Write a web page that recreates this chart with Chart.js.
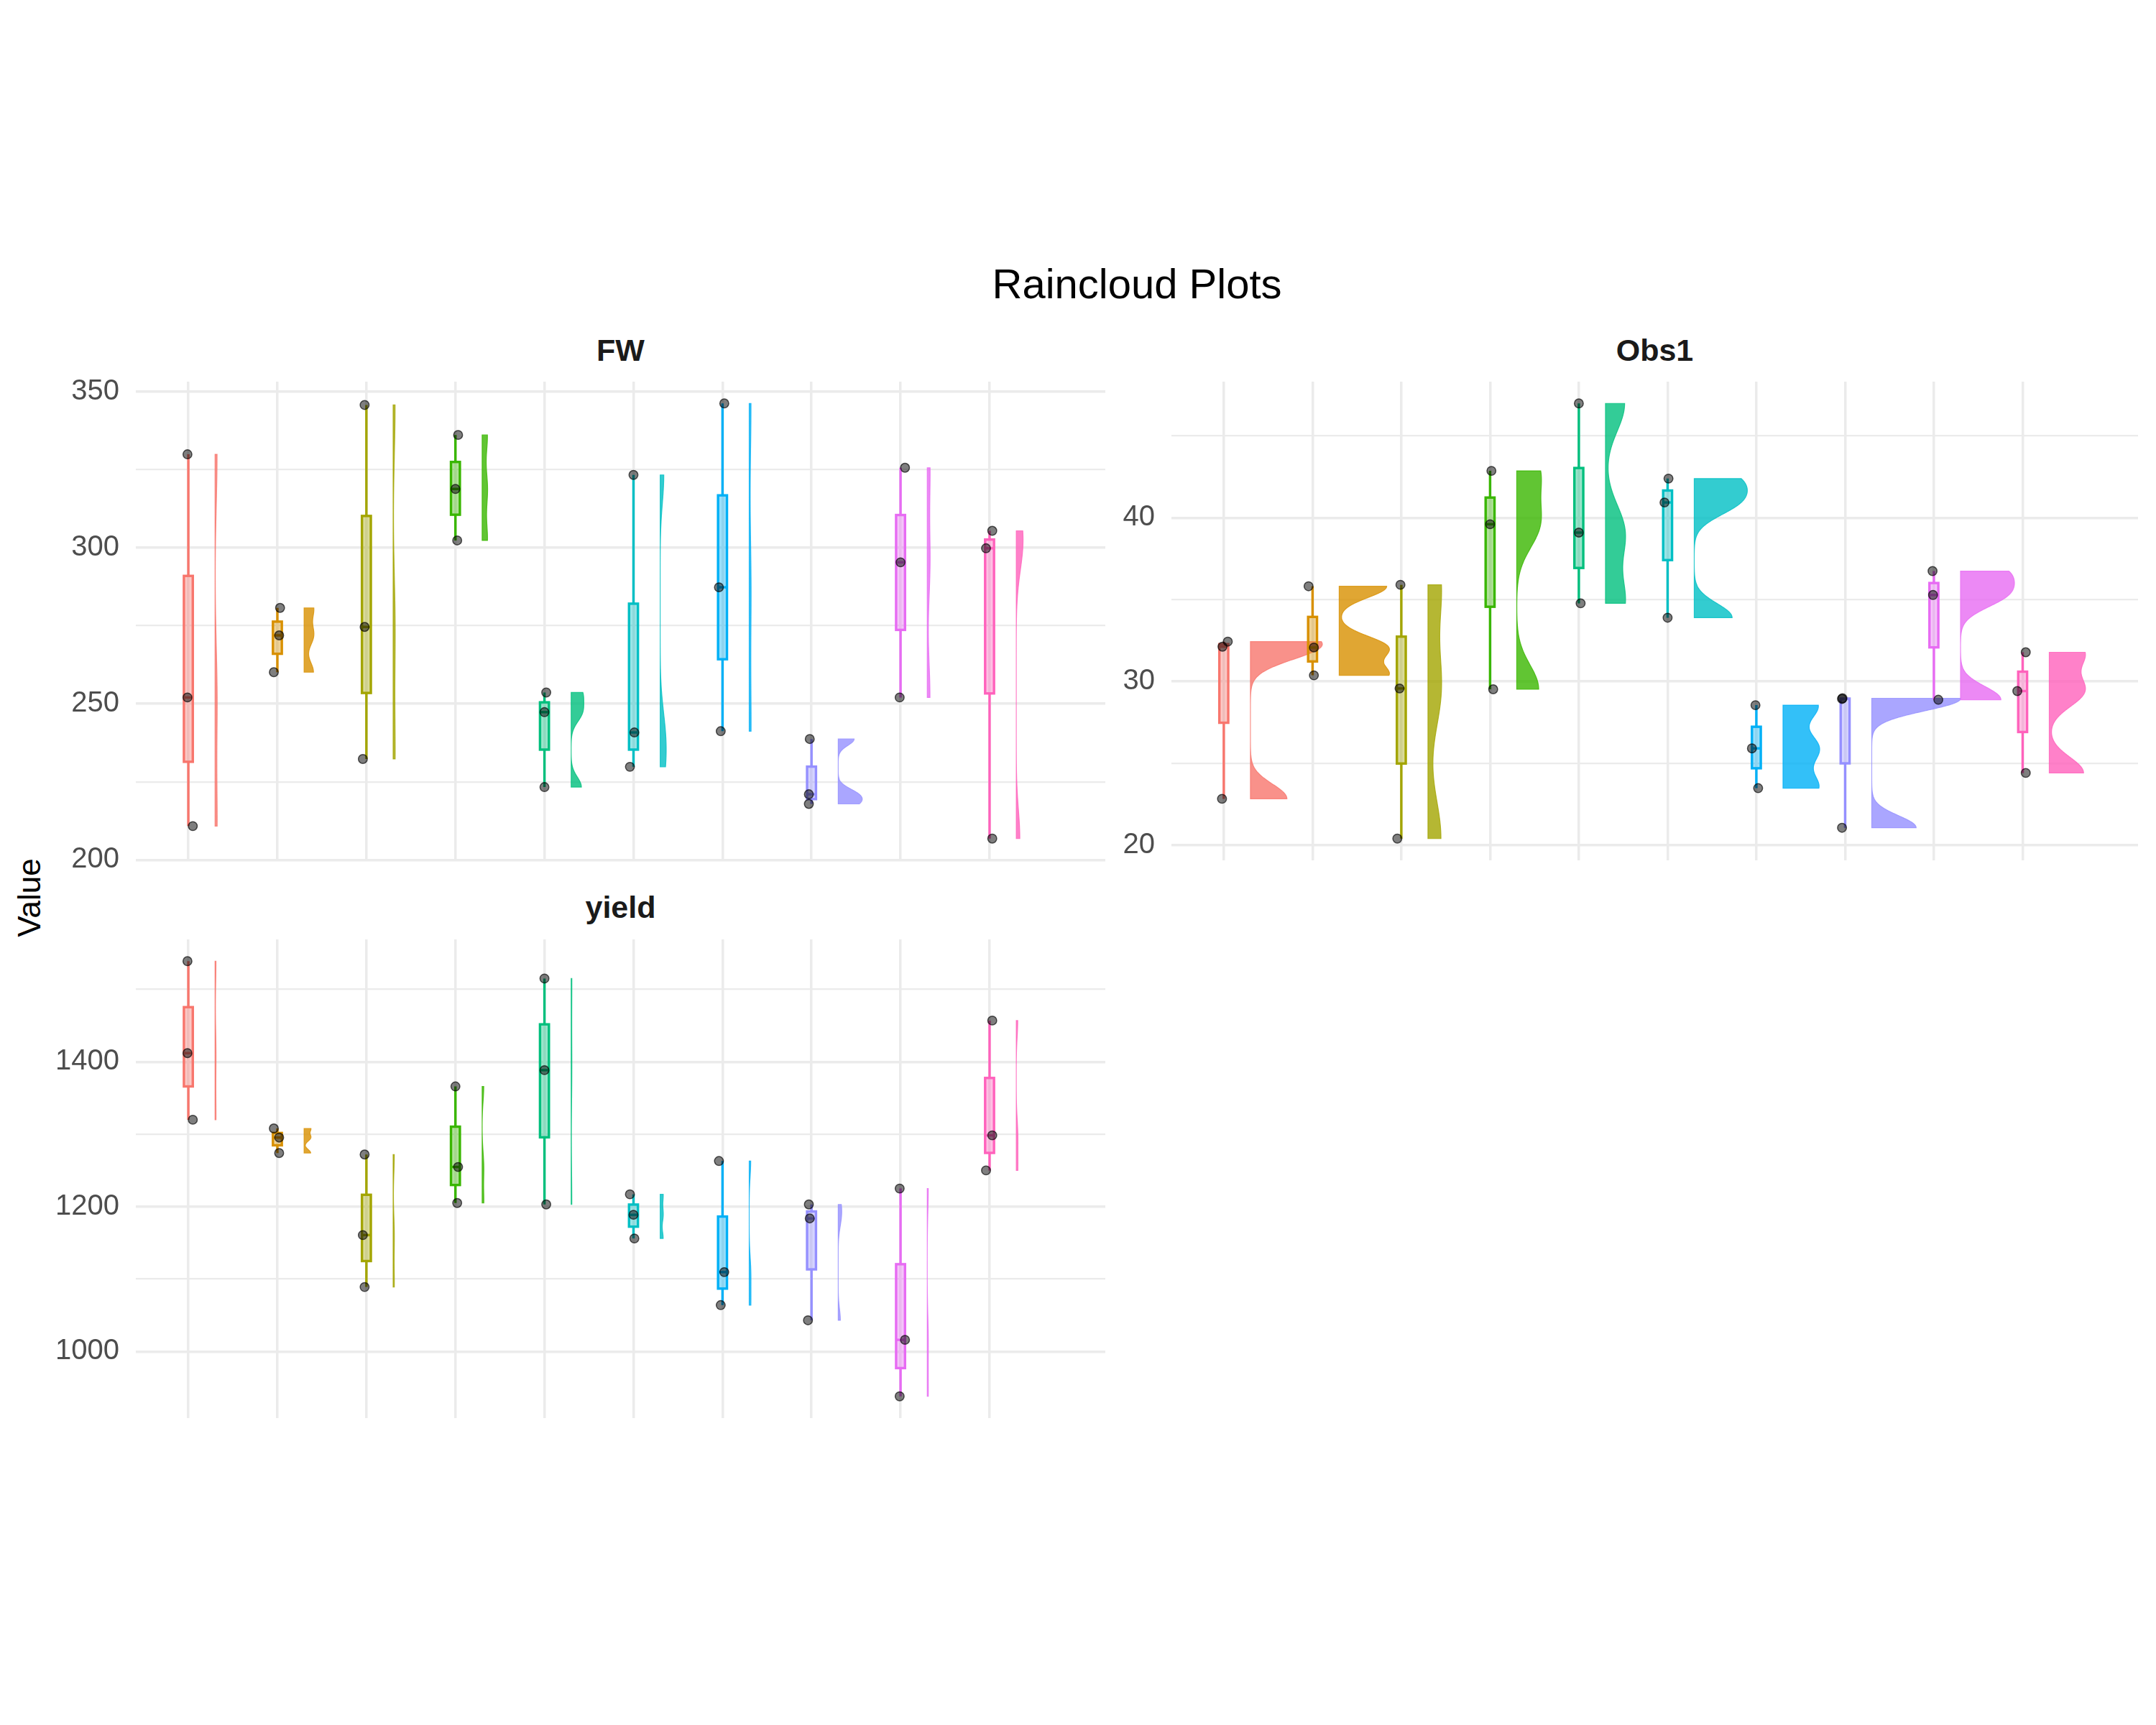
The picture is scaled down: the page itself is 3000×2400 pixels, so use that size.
<!DOCTYPE html>
<html><head><meta charset="utf-8">
<script src="https://cdn.jsdelivr.net/npm/chart.js@4.4.1/dist/chart.umd.min.js"></script>
<style>
html,body{margin:0;padding:0;background:#fff;}
#wrap{position:relative;width:3000px;height:2400px;background:#fff;overflow:hidden;font-family:"Liberation Sans",Arial,sans-serif;}
canvas{position:absolute;}
.txt{position:absolute;white-space:nowrap;text-align:center;}
</style></head><body>
<div id="wrap">
  <div class="txt" style="left:1082px;top:366px;width:1000px;font-size:58px;line-height:58px;color:#000;">Raincloud Plots</div>
  <div class="txt" style="left:663.5px;top:465.6px;width:400px;font-size:43px;line-height:43px;font-weight:bold;color:#1A1A1A;">FW</div>
  <div class="txt" style="left:2102.5px;top:465.6px;width:400px;font-size:43px;line-height:43px;font-weight:bold;color:#1A1A1A;">Obs1</div>
  <div class="txt" style="left:663.5px;top:1240.6px;width:400px;font-size:43px;line-height:43px;font-weight:bold;color:#1A1A1A;">yield</div>
  <div class="txt" style="left:-59.2px;top:1227px;width:200px;height:44px;font-size:44px;line-height:44px;color:#000;transform:rotate(-90deg);">Value</div>
  <canvas id="cFW" width="1600" height="760" style="left:0px;top:484px;width:1600px;height:760px;"></canvas>
  <canvas id="cObs" width="1559" height="760" style="left:1441px;top:484px;width:1559px;height:760px;"></canvas>
  <canvas id="cYield" width="1600" height="760" style="left:0px;top:1260px;width:1600px;height:760px;"></canvas>
</div>
<script>
// ---------------- data ----------------
const categories = ["G1","G2","G3","G4","G5","G6","G7","G8","G9","G10"];
const colors = ["#F8766D","#D89000","#A3A500","#39B600","#00BF7D","#00BFC4","#00B0F6","#9590FF","#E76BF3","#FF62BC"];

const fwValues = [[329.9,252.0,210.8],[280.7,271.9,260.1],[345.7,274.6,232.3],[336.1,318.8,302.3],[253.6,247.3,223.3],
                  [323.3,240.8,229.8],[346.2,287.3,241.2],[238.7,221.0,217.9],[325.6,295.3,252.0],[305.4,299.8,206.8]];
const fwJitter = [[-0.01,-0.01,0.05],[0.03,0.02,-0.04],[-0.02,-0.02,-0.04],[0.03,0,0.02],[0.02,0,0],
                  [0,0.01,-0.04],[0.02,-0.04,-0.02],[-0.02,-0.03,-0.03],[0.05,0,-0.01],[0.03,-0.04,0.03]];
const fwMajorTicks = [200,250,300,350];
const fwMinorTicks = [225,275,325];

const obs1Values = [[32.43,32.12,22.83],[35.81,32.07,30.37],[35.9,29.57,20.4],[42.86,39.6,29.52],[46.98,39.09,34.77],
                    [42.39,40.93,33.89],[28.55,25.91,23.48],[28.97,28.93,21.06],[36.74,35.28,28.88],[31.78,29.41,24.41]];
const obs1Jitter = [[0.045,-0.015,-0.02],[-0.045,0.015,0.015],[-0.01,-0.02,-0.045],[0.015,0,0.035],[0,0,0.02],
                    [0.01,-0.035,0],[-0.01,-0.05,0.02],[-0.03,-0.035,-0.035],[-0.015,-0.01,0.05],[0.035,-0.06,0.035]];
const obs1MajorTicks = [20,30,40];
const obs1MinorTicks = [25,35,45];

const yieldValues = [[1539,1412.0,1320],[1308,1295.4,1274],[1272,1160.7,1089],[1366,1254.8,1205],[1515,1388.5,1203],
                     [1217,1188.7,1156],[1263,1109.6,1064],[1203,1183.7,1043],[1225,1016.0,938],[1457,1298.4,1250]];
const yieldJitter = [[-0.01,-0.01,0.05],[-0.04,0.02,0.02],[-0.02,-0.04,-0.02],[0,0.03,0.02],[0,0,0.02],
                     [-0.04,0,0.01],[-0.04,0.02,-0.02],[-0.03,-0.02,-0.04],[-0.01,0.05,-0.01],[0.03,0.03,-0.04]];
const yieldMajorTicks = [1000,1200,1400];
const yieldMinorTicks = [1100,1300,1500];

// ---------------- layout / style ----------------
const X_MIN = 0.41, X_MAX = 11.3;
const BOX_HALF = 0.05, VIOLIN_NUDGE = 0.3, VIOLIN_MAX = 1.0;
const BW_ADJUST = 0.5;
const GRID = "#EBEBEB";
Chart.defaults.font.family = "Liberation Sans";

// ---------------- stats (box quartiles, density) ----------------
function sorted(a){return a.slice().sort((p,q)=>p-q);}
function q7(s,p){const h=(s.length-1)*p,lo=Math.floor(h),hi=Math.min(lo+1,s.length-1);return s[lo]+(h-lo)*(s[hi]-s[lo]);}
function sdev(x){const m=x.reduce((a,b)=>a+b,0)/x.length;return Math.sqrt(x.reduce((a,b)=>a+(b-m)*(b-m),0)/(x.length-1));}
function iqr(x){const s=sorted(x);return q7(s,0.75)-q7(s,0.25);}
function bwNrd0(x){const lo=Math.min(sdev(x),iqr(x)/1.34);return 0.9*lo*Math.pow(x.length,-0.2);}
function bwSJdpi(x){
  const n=x.length,nb=1000,xmin=Math.min(...x),xmax=Math.max(...x);
  const dd=(xmax-xmin)*1.01/nb,cnt=new Array(nb+2).fill(0);
  for(let i=1;i<n;i++){const ii=Math.trunc(x[i]/dd);for(let j=0;j<i;j++){const jj=Math.trunc(x[j]/dd);cnt[Math.abs(ii-jj)]++;}}
  const S2=Math.sqrt(2*Math.PI);
  const phi4=h=>{let s=0;for(let i=0;i<cnt.length;i++){let d=i*dd/h;d*=d;if(d>=1000)break;s+=Math.exp(-d/2)*(d*d-6*d+3)*cnt[i];}s=2*s+n*3;return s/(n*(n-1)*Math.pow(h,5)*S2);};
  const phi6=h=>{let s=0;for(let i=0;i<cnt.length;i++){let d=i*dd/h;d*=d;if(d>=1000)break;s+=Math.exp(-d/2)*(d*d*d-15*d*d+45*d-15)*cnt[i];}s=2*s-15*n;return s/(n*(n-1)*Math.pow(h,7)*S2);};
  const sc=Math.min(sdev(x),iqr(x)/1.349);
  const b=1.23*sc*Math.pow(n,-1/9),c1=1/(2*Math.sqrt(Math.PI)*n);
  const TD=-phi6(b);
  if(!(TD>0))return bwNrd0(x);
  const r=Math.pow(c1/phi4(Math.pow(2.394/(n*TD),1/7)),1/5);
  return isFinite(r)&&r>0?r:bwNrd0(x);
}
function kde(x,h){
  const lo=Math.min(...x),hi=Math.max(...x),N=300,ys=[],ds=[];
  const k=u=>Math.exp(-0.5*u*u)/Math.sqrt(2*Math.PI);
  for(let i=0;i<N;i++){
    const y=lo+(hi-lo)*i/(N-1);let d=0;
    for(const xi of x)d+=k((y-xi)/h);
    ys.push(y);ds.push(d/(x.length*h));
  }
  return {ys,ds,max:Math.max(...ds)};
}
function violinSet(panels){
  const res=panels.map(P=>P.map(v=>kde(v,bwSJdpi(v)*BW_ADJUST)));
  let gmax=0;res.forEach(P=>P.forEach(d=>{gmax=Math.max(gmax,d.max);}));
  return res.map(P=>P.map(d=>({ys:d.ys,w:d.ds.map(v=>v/gmax*VIOLIN_MAX)})));
}
const violins=violinSet([fwValues,obs1Values,yieldValues]);

// ---------------- drawing ----------------
function rgba(hex,a){const n=parseInt(hex.slice(1),16);return `rgba(${n>>16&255},${n>>8&255},${n&255},${a})`;}
function makePlugin(values,vio){
  return {id:'raincloud',beforeDatasetsDraw(chart){
    const xs=chart.scales.x,ys=chart.scales.y,ctx=chart.ctx,ca=chart.chartArea;
    ctx.save();ctx.beginPath();ctx.rect(ca.left,ca.top,ca.right-ca.left,ca.bottom-ca.top);ctx.clip();
    values.forEach((vals,g)=>{
      const gx=g+1,col=colors[g],v=vio[g];
      // half violin
      ctx.beginPath();
      const x0=xs.getPixelForValue(gx+VIOLIN_NUDGE);
      ctx.moveTo(x0,ys.getPixelForValue(v.ys[0]));
      for(let i=0;i<v.ys.length;i++)ctx.lineTo(xs.getPixelForValue(gx+VIOLIN_NUDGE+v.w[i]),ys.getPixelForValue(v.ys[i]));
      ctx.lineTo(x0,ys.getPixelForValue(v.ys[v.ys.length-1]));ctx.closePath();
      ctx.fillStyle=rgba(col,0.8);ctx.fill();
      ctx.strokeStyle=rgba(col,0.8);ctx.lineWidth=1.2;ctx.stroke();
      // box plot
      const s=sorted(vals),q1=q7(s,0.25),med=q7(s,0.5),q3=q7(s,0.75);
      const xl=xs.getPixelForValue(gx-BOX_HALF),xr=xs.getPixelForValue(gx+BOX_HALF),xc=xs.getPixelForValue(gx);
      ctx.strokeStyle=col;ctx.lineWidth=3.4;ctx.lineCap='butt';
      ctx.beginPath();ctx.moveTo(xc,ys.getPixelForValue(s[s.length-1]));ctx.lineTo(xc,ys.getPixelForValue(q3));
      ctx.moveTo(xc,ys.getPixelForValue(q1));ctx.lineTo(xc,ys.getPixelForValue(s[0]));ctx.stroke();
      const yt=ys.getPixelForValue(q3),yb=ys.getPixelForValue(q1);
      ctx.fillStyle=rgba(col,0.4);ctx.fillRect(xl,yt,xr-xl,yb-yt);
      ctx.strokeRect(xl,yt,xr-xl,yb-yt);
      ctx.beginPath();ctx.moveTo(xl,ys.getPixelForValue(med));ctx.lineTo(xr,ys.getPixelForValue(med));ctx.stroke();
    });
    ctx.restore();
  }};
}
function makeChart(id,values,jitter,major,minor,vio,pad){
  let lo=Infinity,hi=-Infinity;values.forEach(v=>v.forEach(y=>{lo=Math.min(lo,y);hi=Math.max(hi,y);}));
  const r=hi-lo;
  const pts=[];values.forEach((vals,g)=>vals.forEach((y,k)=>pts.push({x:g+1+jitter[g][k],y})));
  const tickVals=major.concat(minor).sort((a,b)=>a-b);
  new Chart(document.getElementById(id),{
    type:'scatter',
    data:{datasets:[{data:pts,pointRadius:6.2,pointBackgroundColor:'rgba(0,0,0,0.5)',pointBorderColor:'rgba(0,0,0,0.65)',pointBorderWidth:1.5}]},
    options:{responsive:false,animation:false,devicePixelRatio:1,events:[],
      layout:{padding:pad},
      plugins:{legend:{display:false},tooltip:{enabled:false}},
      scales:{
        x:{type:'linear',min:X_MIN,max:X_MAX,
           afterBuildTicks:s=>{s.ticks=categories.map((c,i)=>({value:i+1}));},
           ticks:{display:false},grid:{color:GRID,lineWidth:3.5,drawTicks:false},border:{display:false},
           afterFit:s=>{s.height=0;}},
        y:{type:'linear',min:lo-0.05*r,max:hi+0.05*r,
           afterBuildTicks:s=>{s.ticks=tickVals.map(v=>({value:v}));},
           ticks:{padding:23,color:'#4D4D4D',font:{size:40},callback:v=>major.includes(v)?String(v):''},
           grid:{color:GRID,lineWidth:c=>(c.tick&&major.includes(c.tick.value))?3.5:2.2,drawTicks:false},
           border:{display:false},afterFit:s=>{s.width=189;}}
      }},
    plugins:[makePlugin(values,vio)]
  });
}
makeChart('cFW',fwValues,fwJitter,fwMajorTicks,fwMinorTicks,violins[0],{top:40,bottom:45.5,left:0,right:62});
makeChart('cObs',obs1Values,obs1Jitter,obs1MajorTicks,obs1MinorTicks,violins[1],{top:40,bottom:45.5,left:0,right:25});
makeChart('cYield',yieldValues,yieldJitter,yieldMajorTicks,yieldMinorTicks,violins[2],{top:40,bottom:46,left:0,right:62});
</script>
</body></html>
